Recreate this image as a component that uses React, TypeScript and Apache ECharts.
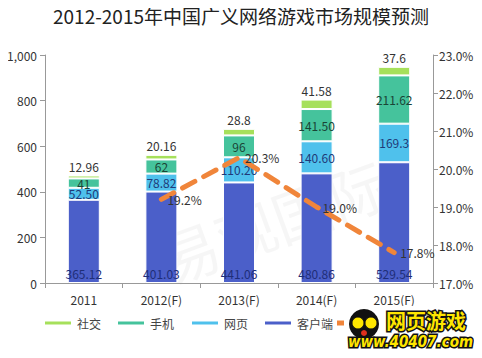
import React, { useEffect, useRef } from "react";
import * as echarts from "echarts";

const categories = ["2011", "2012(F)", "2013(F)", "2014(F)", "2015(F)"];
const clientValues = [365.12, 401.03, 441.06, 480.86, 529.54];
const clientLabels = ["365.12", "401.03", "441.06", "480.86", "529.54"];
const webValues = [52.5, 78.82, 110.2, 140.6, 169.3];
const webLabels = ["52.50", "78.82", "110.20", "140.60", "169.3"];
const mobileValues = [41, 62, 96, 141.5, 211.62];
const mobileLabels = ["41", "62", "96", "141.50", "211.62"];
const socialValues = [12.96, 20.16, 28.8, 41.58, 37.6];
const socialLabels = ["12.96", "20.16", "28.8", "41.58", "37.6"];
const growthValues = [null, 19.2, 20.3, 19.0, 17.8];

const FONT = "'Noto Sans CJK SC', 'Noto Sans', sans-serif";

export default function App() {
  const ref = useRef<HTMLDivElement>(null);
  useEffect(() => {
    if (!ref.current) return;
    const chart = echarts.init(ref.current, undefined, { renderer: "svg" });
    const labelFrom = (arr: string[]) => (p: any) => arr[p.dataIndex];
    const legendItem = (name: string, left: number, icon?: string) => ({
      data: [name],
      left,
      top: 312,
      itemWidth: 28,
      itemHeight: 5,
      icon: icon || "rect",
      itemGap: 4,
      z: 1,
      textStyle: { fontSize: 12, color: "#444", fontFamily: FONT },
    });
    const logoZ = 200;
    chart.setOption({
      animation: false,
      textStyle: { fontFamily: FONT },
      title: {
        text: "2012-2015年中国广义网络游戏市场规模预测",
        left: "center",
        top: 1,
        textStyle: { fontSize: 19, fontWeight: "normal", color: "#222", fontFamily: FONT },
      },
      legend: [
        legendItem("社交", 38),
        legendItem("手机", 111),
        legendItem("网页", 185),
        legendItem("客户端", 258),
        { ...legendItem("增长率", 332), itemStyle: { color: "#F0853A" } },
      ],
      grid: { left: 45, right: 49, top: 55, bottom: 75 },
      xAxis: {
        type: "category",
        data: categories,
        axisLine: { lineStyle: { color: "#999" } },
        axisTick: { show: true, lineStyle: { color: "#999" } },
        axisLabel: { color: "#333", fontSize: 12, margin: 10 },
      },
      yAxis: [
        {
          type: "value",
          min: 0,
          max: 1000,
          interval: 200,
          axisLine: { show: true, lineStyle: { color: "#999" } },
          axisTick: { show: true, lineStyle: { color: "#999" } },
          splitLine: { show: false },
          axisLabel: {
            color: "#333",
            fontSize: 12,
            margin: 8,
            formatter: (v: number) => v.toLocaleString("en-US"),
          },
        },
        {
          type: "value",
          min: 17,
          max: 23,
          interval: 1,
          position: "right",
          axisLine: { show: true, lineStyle: { color: "#999" } },
          axisTick: { show: true, lineStyle: { color: "#999" } },
          splitLine: { show: false },
          axisLabel: {
            color: "#333",
            fontSize: 12,
            margin: 6,
            formatter: (v: number) => v.toFixed(1) + "%",
          },
        },
      ],
      series: [
        {
          name: "客户端",
          type: "bar",
          stack: "total",
          barWidth: 32,
          data: clientValues,
          itemStyle: { color: "#4B5FC9", borderColor: "#fff", borderWidth: 1 },
          label: {
            show: true,
            position: "insideBottom",
            distance: 4,
            color: "#1F2E78",
            fontSize: 12,
            formatter: labelFrom(clientLabels),
          },
        },
        {
          name: "网页",
          type: "bar",
          stack: "total",
          data: webValues,
          itemStyle: { color: "#4FC1EC", borderColor: "#fff", borderWidth: 1 },
          label: { show: true, position: "inside", color: "#1F3A78", fontSize: 12, formatter: labelFrom(webLabels) },
        },
        {
          name: "手机",
          type: "bar",
          stack: "total",
          data: mobileValues,
          itemStyle: { color: "#45C39C", borderColor: "#fff", borderWidth: 1 },
          label: { show: true, position: "inside", color: "#1A4536", fontSize: 12, formatter: labelFrom(mobileLabels) },
        },
        {
          name: "社交",
          type: "bar",
          stack: "total",
          data: socialValues,
          itemStyle: { color: "#A6E05B", borderColor: "#fff", borderWidth: 1 },
          label: { show: true, position: "top", distance: 3, color: "#333", fontSize: 12, formatter: labelFrom(socialLabels) },
        },
        {
          name: "增长率",
          type: "line",
          yAxisIndex: 1,
          data: growthValues,
          showSymbol: true,
          symbol: "circle",
          symbolSize: 2,
          z: 5,
          lineStyle: { color: "#F0853A", width: 5, type: [14, 10], cap: "round" },
          itemStyle: { color: "rgba(240,133,58,0)", borderWidth: 0 },
          label: {
            show: true,
            position: "right",
            distance: 5,
            color: "#333",
            fontSize: 12,
            formatter: (p: any) => p.value.toFixed(1) + "%",
          },
        },
      ],
      graphic: [
        {
          type: "text",
          left: 150,
          top: 150,
          rotation: 0.35,
          silent: true,
          z: 0,
          style: { text: "易观国际", fontSize: 60, fill: "rgba(0,0,0,0.035)", fontFamily: FONT },
        },
        {
          type: "group",
          left: 344,
          top: 306,
          z: logoZ,
          children: [
            { type: "rect", z: logoZ, shape: { x: 0, y: 0, width: 138, height: 50 }, style: { fill: "#fff" } },
            { type: "circle", z: logoZ + 1, shape: { cx: 20, cy: 18, r: 15 }, style: { fill: "#111" } },
            { type: "circle", z: logoZ + 2, shape: { cx: 14, cy: 17, r: 6 }, style: { fill: "#FFE600", stroke: "#111", lineWidth: 1 } },
            { type: "circle", z: logoZ + 2, shape: { cx: 27, cy: 17, r: 6 }, style: { fill: "#FFE600", stroke: "#111", lineWidth: 1 } },
            { type: "circle", z: logoZ + 2, shape: { cx: 20, cy: 27, r: 3 }, style: { fill: "#E0301E" } },
            {
              type: "text",
              z: logoZ + 3,
              x: 42,
              y: 4,
              style: {
                text: "网页游戏",
                fontSize: 20,
                fontWeight: "bold",
                fill: "#FFE600",
                stroke: "#111",
                lineWidth: 3,
                fontFamily: FONT,
              },
            },
            {
              type: "text",
              z: logoZ + 3,
              x: 4,
              y: 28,
              style: {
                text: "www.40407.com",
                fontSize: 15,
                fontWeight: "bold",
                fontStyle: "italic",
                fill: "#FFE600",
                stroke: "#111",
                lineWidth: 3,
                fontFamily: "'DejaVu Sans Condensed', 'DejaVu Sans', sans-serif",
              },
            },
          ],
        },
      ],
    });
    return () => chart.dispose();
  }, []);
  return <div ref={ref} style={{ width: 482, height: 358, margin: -8 }} />;
}
